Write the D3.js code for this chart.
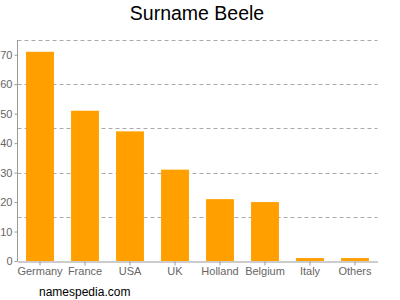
<!DOCTYPE html>
<html>
<head>
<meta charset="utf-8">
<script src="https://cdn.jsdelivr.net/npm/d3@7"></script>
<style>
  body { margin: 0; background: #fff; }
  svg { display: block; font-family: "Liberation Sans", Arial, sans-serif; }
</style>
</head>
<body>
<svg id="chart" width="400" height="300"></svg>
<script>
var countries = ["Germany", "France", "USA", "UK", "Holland", "Belgium", "Italy", "Others"];
var counts = [71, 51, 44, 31, 21, 20, 1, 1];
var yTicks = [0, 10, 20, 30, 40, 50, 60, 70];
var gridLines = [15, 30, 45, 60, 75];

var svg = d3.select("#chart");
var plotLeft = 17.5, plotRight = 377.5, plotTop = 40, plotBottom = 261;

var x = d3.scaleBand().domain(countries).range([plotLeft, plotRight]).paddingInner(0.38).paddingOuter(0.19);
var y = d3.scaleLinear().domain([0, 75]).range([plotBottom, plotTop]);

// dashed grid
svg.append("g").selectAll("line")
    .data(gridLines)
    .enter().append("line")
    .attr("x1", plotLeft).attr("x2", plotRight)
    .attr("y1", d => Math.round(y(d)) + 0.5).attr("y2", d => Math.round(y(d)) + 0.5)
    .attr("stroke", "#aaa")
    .attr("stroke-dasharray", "4,3");

// bars
svg.append("g").selectAll("rect")
    .data(countries)
    .enter().append("rect")
    .attr("x", d => x(d))
    .attr("width", x.bandwidth())
    .attr("y", (d, i) => y(counts[i]))
    .attr("height", (d, i) => plotBottom - y(counts[i]))
    .attr("fill", "#ffa000");

// y axis
var yAxis = svg.append("g")
    .attr("transform", "translate(" + plotLeft + ",0)")
    .call(d3.axisLeft(y).tickValues(yTicks).tickSize(3).tickPadding(2));
yAxis.select(".domain").attr("d", "M0," + plotTop + "V" + plotBottom);

// x axis
var xAxis = svg.append("g")
    .attr("transform", "translate(0," + (plotBottom + 0.5) + ")")
    .call(d3.axisBottom(x).tickSize(4).tickSizeOuter(0).tickPadding(2));

svg.selectAll(".domain, .tick line").attr("stroke", "#999");
svg.selectAll(".tick text").attr("fill", "#666").attr("font-size", "11px")
    .attr("font-family", "'Liberation Sans', Arial, sans-serif");

svg.append("text")
    .attr("x", 197).attr("y", 20)
    .attr("text-anchor", "middle")
    .attr("font-size", "19.5px")
    .attr("fill", "#000")
    .text("Surname Beele");

svg.append("text")
    .attr("x", 39).attr("y", 296)
    .attr("font-size", "12px")
    .attr("fill", "#000")
    .text("namespedia.com");
</script>
</body>
</html>
